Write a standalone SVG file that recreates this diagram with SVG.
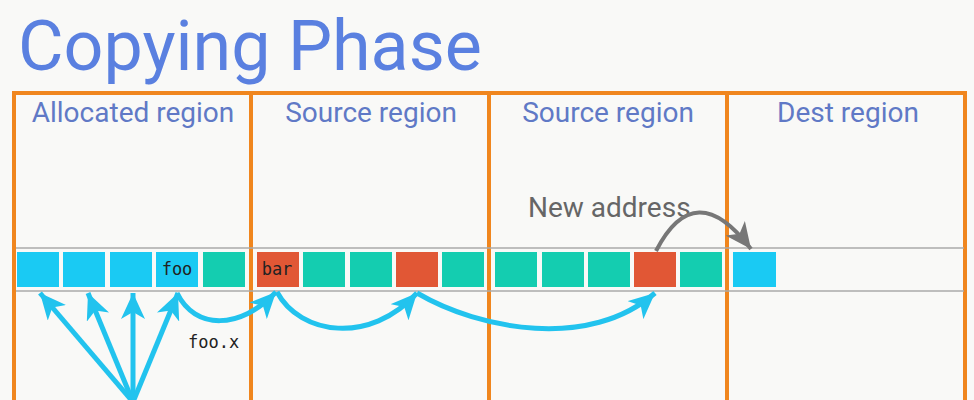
<svg xmlns="http://www.w3.org/2000/svg" width="974" height="400" viewBox="0 0 974 400">
<style>
.title{font-family:Roboto,"Liberation Sans",sans-serif;font-size:70px;fill:#5A80E0}
.lbl{font-family:Roboto,"Liberation Sans",sans-serif;font-size:28px;fill:#6079C6;text-anchor:middle}
.note{font-family:Roboto,"Liberation Sans",sans-serif;font-size:28px;fill:#666}
.mono{font-family:"DejaVu Sans Mono","Liberation Mono",monospace;font-size:17px;fill:#222}
.frame{fill:none;stroke:#F0861E;stroke-width:4}
.cyan{fill:#1ACAF3}
.teal{fill:#14CDB0}
.red{fill:#E15735}
.cy{fill:none;stroke:#22C3EE;stroke-width:5;marker-end:url(#ah)}
.gr{fill:none;stroke:#777;stroke-width:4;marker-end:url(#ag)}
</style>
<defs>
<marker id="ah" markerUnits="userSpaceOnUse" markerWidth="28" markerHeight="24" refX="26" refY="12" orient="auto">
<path d="M0,0 L26,12 L0,24 L7,12 z" fill="#22C3EE"/>
</marker>
<marker id="ag" markerUnits="userSpaceOnUse" markerWidth="28" markerHeight="24" refX="26" refY="12" orient="auto">
<path d="M0,0 L26,12 L0,24 L7,12 z" fill="#777"/>
</marker>
</defs>
<rect width="974" height="400" fill="#F9F9F7"/>
<text class="title" x="18" y="70">Copying Phase</text>
<g id="frame">
<path class="frame" d="M14,410 V93 H965 V410 M251,93 V410 M489,93 V410 M727,93 V410"/>
</g>
<g id="strip">
<line x1="16" y1="248" x2="964" y2="248" stroke="#AAA" stroke-width="1.5"/>
<line x1="16" y1="291" x2="964" y2="291" stroke="#AAA" stroke-width="1.5"/>
</g>
<g id="allocated-region">
<text class="lbl" x="133" y="122">Allocated region</text>
<rect class="cyan" x="17" y="252" width="42" height="35"/>
<rect class="cyan" x="63" y="252" width="42" height="35"/>
<rect class="cyan" x="110" y="252" width="42" height="35"/>
<g id="foo"><rect class="cyan" x="156" y="252" width="42" height="35"/><text class="mono" x="177" y="275" text-anchor="middle">foo</text></g>
<rect class="teal" x="203" y="252" width="42" height="35"/>
</g>
<g id="source-region-1">
<text class="lbl" x="371" y="122">Source region</text>
<g id="bar"><rect class="red" x="257" y="252" width="42" height="35"/><text class="mono" x="277" y="275" text-anchor="middle">bar</text></g>
<rect class="teal" x="303" y="252" width="42" height="35"/>
<rect class="teal" x="350" y="252" width="42" height="35"/>
<rect class="red" x="396" y="252" width="42" height="35"/>
<rect class="teal" x="442" y="252" width="42" height="35"/>
</g>
<g id="source-region-2">
<text class="lbl" x="608" y="122">Source region</text>
<rect class="teal" x="495" y="252" width="42" height="35"/>
<rect class="teal" x="542" y="252" width="42" height="35"/>
<rect class="teal" x="588" y="252" width="42" height="35"/>
<rect class="red" x="634" y="252" width="42" height="35"/>
<rect class="teal" x="680" y="252" width="42" height="35"/>
</g>
<g id="dest-region">
<text class="lbl" x="848" y="122">Dest region</text>
<rect class="cyan" x="733" y="252" width="43" height="35"/>
</g>
<text class="note" x="528" y="217">New address</text>
<text class="mono" x="188" y="348">foo.x</text>
<g id="connectors">
<path class="cy" d="M133,402 L40,293"/>
<path class="cy" d="M133,402 L88,293"/>
<path class="cy" d="M133,402 L133,293"/>
<path class="cy" d="M133,402 L178,293"/>
<path class="cy" d="M177,293 C195,330 240,330 276,292"/>
<path class="cy" d="M277,292 C300,335 370,345 417,293"/>
<path class="cy" d="M417,293 C480,330 590,350 655,293"/>
<path class="gr" d="M656,251 Q695,175 751,249"/>
</g>
</svg>
